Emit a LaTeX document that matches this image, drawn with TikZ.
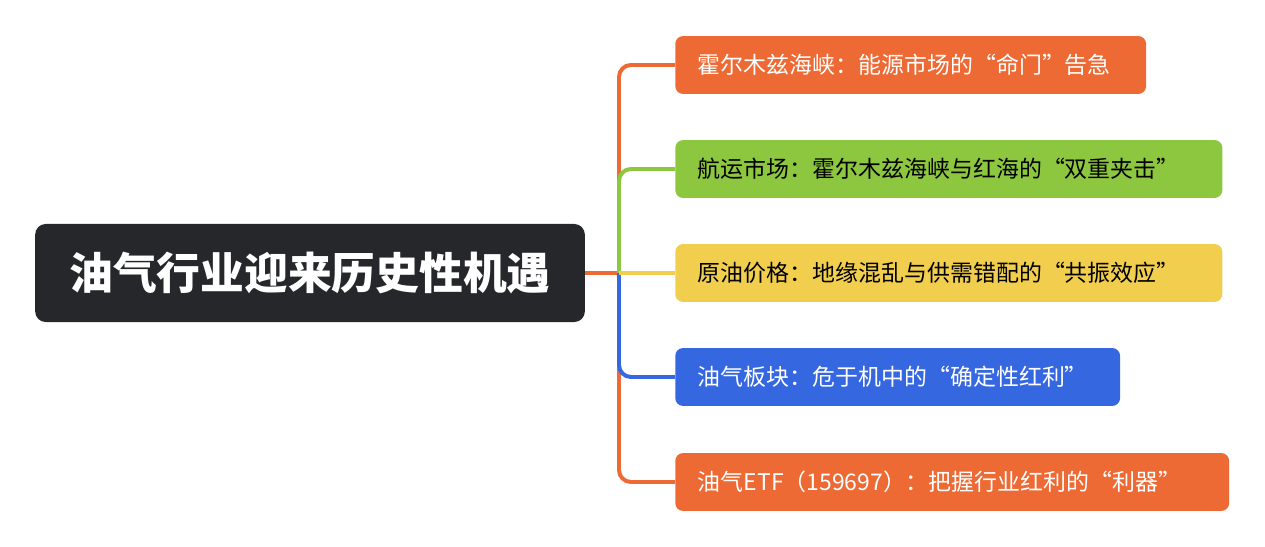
\documentclass[tikz,border=0pt]{standalone}
\usepackage{fontspec}
\setmainfont{Noto Sans CJK SC}
\definecolor{orangeC}{HTML}{EE6A34}
\definecolor{greenC}{HTML}{8DC63F}
\definecolor{yellowC}{HTML}{F2CE4E}
\definecolor{blueC}{HTML}{3567E0}
\definecolor{darkC}{HTML}{26272B}
\tikzset{
  rootbox/.style={fill=darkC, text=white, rounded corners=8pt, minimum height=2.6cm,
    minimum width=14.57cm, font=\fontsize{33}{36}\selectfont\bfseries},
  topic/.style={anchor=west, rounded corners=6pt, minimum height=1.537cm,
    inner xsep=0.6cm, align=left, font=\fontsize{17.3}{20}\selectfont},
  link/.style={line width=3pt, rounded corners=9pt}
}
\begin{document}
\begin{tikzpicture}[x=0.0265cm,y=-0.0265cm]
\useasboundingbox (0,0) rectangle (1265,547);

\node[rootbox] (root) at (310,273) {油气行业迎来历史性机遇};
\coordinate (hub) at (619,273);

\node[topic, fill=orangeC, text=white, text width=11.28cm] (t1) at (675,65)  {霍尔木兹海峡：能源市场的“命门”告急};
\node[topic, fill=greenC, text=black, text width=13.3cm]   (t2) at (675,169) {航运市场：霍尔木兹海峡与红海的“双重夹击”};
\node[topic, fill=yellowC, text=black, text width=13.3cm]  (t3) at (675,273) {原油价格：地缘混乱与供需错配的“共振效应”};
\node[topic, fill=blueC, text=white, text width=10.59cm]   (t4) at (675,377) {油气板块：危于机中的“确定性红利”};
\node[topic, fill=orangeC, text=white, text width=13.48cm] (t5) at (675,482) {油气ETF（159697）：把握行业红利的“利器”};

% connectors
\draw[link, orangeC] (root.east) -- (hub);
\draw[link, orangeC] (hub) |- (t1.west);
\draw[link, orangeC] (hub) |- (t5.west);
\draw[link, greenC] (hub) |- (t2.west);
\draw[link, blueC] (hub) |- (t4.west);
\draw[link, yellowC] (hub) -- (t3.west);
\end{tikzpicture}
\end{document}
